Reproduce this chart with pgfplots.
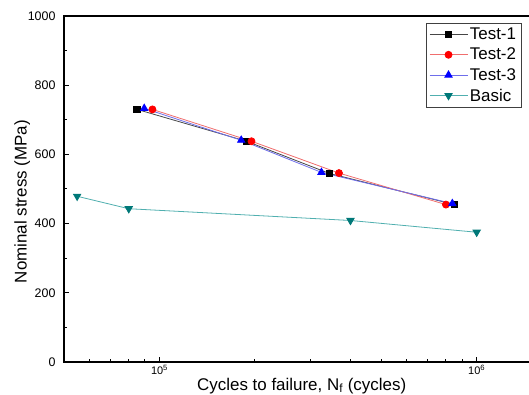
\documentclass[border=0pt]{standalone}
\usepackage{fontspec}
\setmainfont{Liberation Sans}
\usepackage{pgfplots}
\pgfplotsset{compat=1.18}
\definecolor{tonel}{RGB}{70,70,70}
\definecolor{ttwol}{RGB}{240,110,110}
\definecolor{tthreel}{RGB}{110,110,235}
\definecolor{tealm}{RGB}{0,120,120}
\definecolor{teall}{RGB}{80,175,175}
\begin{document}
\begin{tikzpicture}
\begin{axis}[
  name=ax,
  scale only axis,
  width=466bp, height=346bp,
  xmode=log,
  xmin=5e4, xmax=1.473e6,
  ymin=0, ymax=1000,
  ytick={0,200,400,600,800,1000},
  minor ytick={100,300,500,700,900},
  xtick={1e5,1e6},
  xticklabels={10\textsuperscript{5},10\textsuperscript{6}},
  minor xtick={6e4,7e4,8e4,9e4,2e5,3e5,4e5,5e5,6e5,7e5,8e5,9e5},
  tick pos=left,
  tick align=inside,
  major tick length=5bp,
  minor tick length=3bp,
  axis line style={line width=1.1bp},
  every tick/.style={black, line width=1bp},
  /pgf/number format/assume math mode=true,
  /pgf/number format/1000 sep={},
  yticklabel style={font=\fontsize{12.5}{13}\selectfont, xshift=-5bp},
  xticklabel style={font=\fontsize{11}{12}\selectfont},
  xlabel={Cycles to failure, N\textsubscript{f} (cycles)},
  ylabel={Nominal stress (MPa)},
  every axis x label/.style={at={(axis description cs:0.51,0)}, anchor=base, yshift=-28bp, font=\fontsize{17}{20}\selectfont},
  every axis y label/.style={at={(axis description cs:-0.08004,0.4636)}, rotate=90, anchor=base, font=\fontsize{17}{20}\selectfont},
  legend style={at={(1,1)}, anchor=north east, xshift=-9bp, yshift=-7bp,
    font=\fontsize{17}{20}\selectfont, draw=black!75, line width=0.8bp,
    inner sep=3bp, outer sep=0pt, row sep=3bp, cells={anchor=west}},
  legend image code/.code={\draw[mark repeat=2,mark phase=2] plot coordinates {(0bp,0bp)(19bp,0bp)(38bp,0bp)};},
]
\addplot[color=tonel, line width=0.8bp, mark=square*, mark size=3.3bp, mark options={fill=black, draw=black}]
  coordinates {(85000,730) (188000,638) (343000,545) (850000,455)};
\addlegendentry{Test-1}
\addplot[color=ttwol, line width=0.8bp, mark=*, mark size=3.5bp, mark options={fill=red, draw=red}]
  coordinates {(95000,730) (195000,638) (368000,546) (800000,455)};
\addlegendentry{Test-2}
\addplot[color=tthreel, line width=0.8bp, mark=triangle*, mark size=4.2bp, mark options={fill=blue, draw=blue}]
  coordinates {(89500,733) (181000,641) (324000,548) (838000,458)};
\addlegendentry{Test-3}
\addplot[color=teall, line width=0.8bp, mark=triangle*, mark size=4.2bp, mark options={fill=tealm, draw=tealm, rotate=180}]
  coordinates {(55000,479) (80000,443) (400000,409) (1000000,375)};
\addlegendentry{Basic}
\end{axis}
\pgfresetboundingbox
\path[use as bounding box] (ax.south west) ++(-64bp,-33bp) rectangle ([shift={(-1bp,16bp)}]ax.north east);
\end{tikzpicture}
\end{document}
